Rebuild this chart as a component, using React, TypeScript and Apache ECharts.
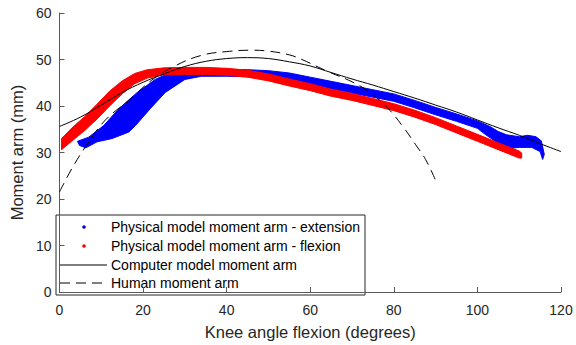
import React, { useEffect, useRef } from "react";
import * as echarts from "echarts";

const xTicks = [0, 20, 40, 60, 80, 100, 120];
const yTicks = [0, 10, 20, 30, 40, 50, 60];

const computerX = [0, 5, 10, 15, 20, 25, 30, 35, 40, 45, 50, 55, 60, 65, 70, 75, 80, 85, 90, 95, 100, 105, 110, 115, 120];
const computerY = [35.6, 37.6, 40.2, 42.9, 45.1, 46.9, 48.5, 49.6, 50.2, 50.4, 50.2, 49.5, 48.6, 47.2, 45.8, 44.5, 43.1, 41.7, 40.2, 38.7, 37.0, 35.3, 33.7, 31.9, 30.2];

const humanX = [0, 3, 6.5, 11, 16.6, 22, 27.6, 34, 40, 46, 50, 55, 58, 64, 70, 74, 78.5, 82.4, 85.2, 87.6, 90];
const humanY = [21.5, 26.6, 31.6, 37.0, 41.2, 45.5, 48.6, 50.9, 51.7, 52.0, 51.8, 51.0, 50.0, 47.5, 45.2, 43.1, 39.6, 35.3, 31.7, 28.5, 24.0];

const redUpperX = [0.5, 3, 6, 9, 12, 15, 18, 21, 25, 30, 35, 40, 45, 50, 55, 60, 65, 70, 75, 80, 85, 90, 95, 100, 105, 110, 110.6];
const redUpperY = [33.0, 35.3, 37.7, 40.4, 43.2, 45.4, 47.0, 47.8, 48.2, 48.3, 48.3, 48.1, 47.7, 46.9, 45.8, 44.8, 43.6, 42.7, 41.6, 40.5, 39.1, 37.5, 35.7, 33.9, 32.1, 30.3, 29.9];
const redLowerX = [110.6, 110, 105, 100, 95, 90, 85, 80, 75, 70, 65, 60, 55, 50, 45, 40, 35, 30, 25, 21, 18, 15, 12, 9, 6, 3, 0.5];
const redLowerY = [28.8, 28.8, 30.6, 32.4, 34.2, 36.0, 37.6, 39.0, 40.1, 41.2, 42.1, 43.3, 44.3, 45.4, 46.2, 46.6, 46.8, 46.8, 46.7, 46.0, 44.8, 42.6, 40.0, 37.2, 34.7, 32.5, 30.6];

const blueUpperX = [4.3, 7, 10.6, 14.2, 18.6, 22.9, 26, 30, 35, 40, 45, 50, 55, 60, 65, 70, 75, 80, 85, 90, 95, 100, 103, 105, 107, 110, 112, 114, 115.3, 116];
const blueUpperY = [32.4, 33.3, 35.8, 39.4, 42.9, 45.7, 47.0, 47.6, 47.8, 47.9, 47.8, 47.6, 47.1, 46.2, 45.3, 44.4, 43.5, 42.6, 41.2, 39.7, 38.3, 36.8, 35.6, 34.5, 33.8, 33.4, 33.7, 33.4, 32.5, 29.6];
const blueLowerX = [115.6, 115, 113, 110, 108, 106, 104, 102, 100, 95, 90, 85, 80, 75, 70, 65, 60, 55, 50, 45, 40, 34, 30, 25.3, 21.7, 18.2, 16.6, 12.6, 9, 6.3, 4.8];
const blueLowerY = [28.5, 30.2, 31.1, 31.1, 30.9, 31.4, 32.6, 33.8, 35.2, 36.7, 38.1, 39.6, 41.0, 41.9, 42.8, 43.7, 44.6, 45.5, 46.1, 46.3, 46.4, 46.4, 45.7, 42.9, 39.4, 35.8, 34.4, 33.0, 32.3, 31.0, 31.5];

const legendLabels = [
  "Physical model moment arm - extension",
  "Physical model moment arm - flexion",
  "Computer model moment arm",
  "Human moment arm",
];

const FONT = "'Liberation Sans', Arial, Helvetica, sans-serif";

function zip(xs: number[], ys: number[]) {
  return xs.map((x, i) => [x, ys[i]]);
}

function bandSeries(upperX: number[], upperY: number[], lowerX: number[], lowerY: number[], color: string) {
  const pts = zip(upperX, upperY).concat(zip(lowerX, lowerY));
  return {
    type: "custom",
    coordinateSystem: "cartesian2d",
    silent: true,
    clip: true,
    data: [[0, 0]],
    renderItem: (_params: any, api: any) => ({
      type: "polygon",
      shape: { points: pts.map((p) => api.coord(p)) },
      style: { fill: color, stroke: color, lineWidth: 1 },
    }),
  };
}

export default function App() {
  const ref = useRef<HTMLDivElement>(null);
  useEffect(() => {
    if (!ref.current) return;
    const chart = echarts.init(ref.current, null, { renderer: "svg" });
    const axisCommon = {
      axisLine: { show: true, lineStyle: { color: "#5a5a5a", width: 1 } },
      axisTick: { show: true, inside: true, length: 5, lineStyle: { color: "#5a5a5a" } },
      splitLine: { show: false },
      nameTextStyle: { color: "#262626", fontSize: 16.5, fontFamily: FONT },
      nameLocation: "middle" as const,
    };
    const lx = 56, ly = 215;
    const rows = [227, 246, 265, 283];
    chart.setOption({
      animation: false,
      backgroundColor: "#ffffff",
      grid: { left: 57, top: 13, width: 504, height: 282 },
      xAxis: {
        type: "value",
        min: xTicks[0],
        max: xTicks[xTicks.length - 1],
        interval: xTicks[1] - xTicks[0],
        name: "Knee angle flexion (degrees)",
        nameGap: 31,
        axisLabel: { color: "#262626", fontSize: 14, fontFamily: FONT, margin: 11 },
        ...axisCommon,
      },
      yAxis: {
        type: "value",
        min: yTicks[0],
        max: yTicks[yTicks.length - 1],
        interval: yTicks[1] - yTicks[0],
        name: "Moment arm (mm)",
        nameGap: 30,
        axisLabel: { color: "#262626", fontSize: 14, fontFamily: FONT, margin: 8 },
        ...axisCommon,
      },
      series: [
        bandSeries(blueUpperX, blueUpperY, blueLowerX, blueLowerY, "#0000ff"),
        bandSeries(redUpperX, redUpperY, redLowerX, redLowerY, "#ff0000"),
        {
          type: "line",
          data: zip(computerX, computerY),
          smooth: 0.4,
          showSymbol: false,
          silent: true,
          lineStyle: { color: "#000000", width: 1 },
        },
        {
          type: "line",
          data: zip(humanX, humanY),
          smooth: 0.4,
          showSymbol: false,
          silent: true,
          lineStyle: { color: "#000000", width: 1, type: [10, 6] },
        },
      ],
      graphic: [
        {
          type: "group",
          z: 100,
          children: [
            {
              type: "rect",
              shape: { x: lx, y: ly, width: 309, height: 80 },
              style: { fill: "#ffffff", stroke: "#262626", lineWidth: 1 },
            },
            { type: "circle", shape: { cx: 84, cy: rows[0], r: 1.8 }, style: { fill: "#0000ff" } },
            { type: "circle", shape: { cx: 84, cy: rows[1], r: 1.8 }, style: { fill: "#ff0000" } },
            {
              type: "line",
              shape: { x1: 60, y1: rows[2], x2: 107, y2: rows[2] },
              style: { stroke: "#000000", lineWidth: 1 },
            },
            {
              type: "line",
              shape: { x1: 60, y1: rows[3], x2: 107, y2: rows[3] },
              style: { stroke: "#000000", lineWidth: 1, lineDash: [10, 6] },
            },
            ...legendLabels.map((t, i) => ({
              type: "text",
              style: {
                x: 111,
                y: rows[i],
                text: t,
                fill: "#000000",
                font: `14px ${FONT}`,
                verticalAlign: "middle",
                align: "left",
              },
            })),
          ],
        },
      ],
    });
    return () => chart.dispose();
  }, []);
  return (
    <div
      ref={ref}
      style={{ position: "fixed", left: 0, top: 0, width: 576, height: 345, background: "#fff" }}
    />
  );
}
